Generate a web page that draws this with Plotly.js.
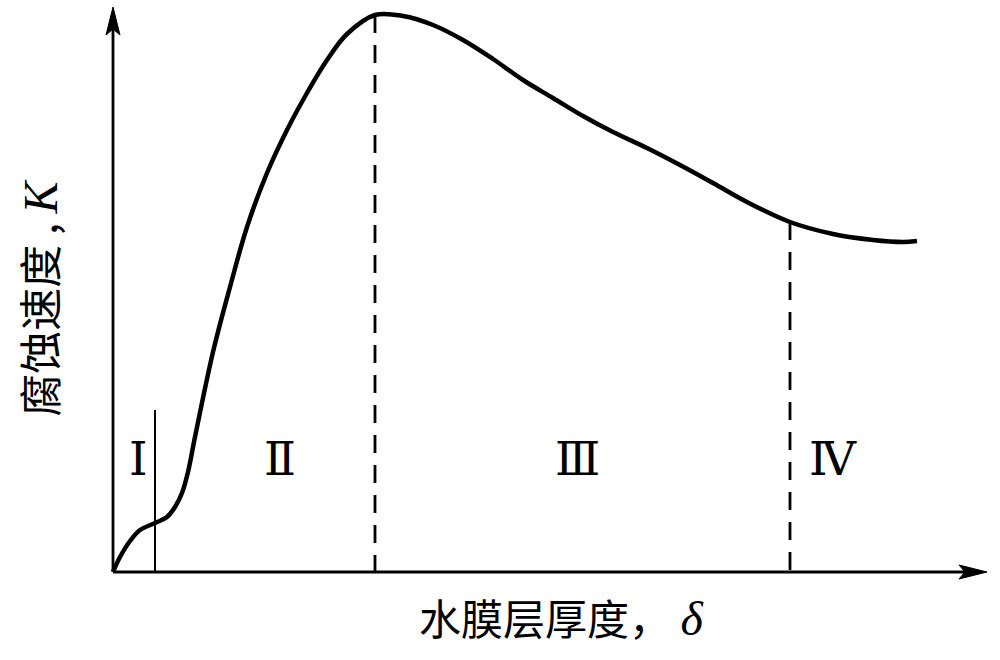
<!DOCTYPE html>
<html>
<head>
<meta charset="utf-8">
<script src="https://cdn.plot.ly/plotly-3.0.1.min.js"></script>
<style>
  html, body { margin: 0; padding: 0; background: #ffffff; }
  #chart { width: 1000px; height: 660px; }
</style>
</head>
<body>
<div id="chart"></div>
<script>
// Water-film thickness (delta) vs corrosion rate (K), schematic units
const filmThickness = [0, 7, 17, 27, 42, 54, 62, 69, 75, 82, 100, 117, 134, 154, 174, 194, 214, 234, 262, 290, 320, 350, 380, 410, 440, 470, 500, 534, 567, 600, 634, 677, 720, 760, 790, 804];
const corrosionRate = [0, 15, 31, 42, 49, 55, 65, 79, 100, 135, 220, 285, 345, 399, 442, 479, 512, 538, 557, 556, 547, 532, 513, 492, 474, 456, 440, 424, 407, 389, 370, 350, 338, 332, 330, 331];

// Region boundaries along the thickness axis
const boundaryThickness = [42, 262, 677];
const boundaryStyle = ['solid', 'dash', 'dash'];
const firstBoundaryHeight = 162;

// Region names
const regionNames = ['Ⅰ', 'Ⅱ', 'Ⅲ', 'Ⅳ'];

const serifItalic = 'font-family:\'Liberation Serif\';font-style:italic;font-size:48px';
const xTitle = '水膜层厚度， <span style="' + serifItalic + '">δ</span>';
const yTitle = '腐蚀速度 , <span style="' + serifItalic + '">K</span>';

const X_MAX = 874, Y_MAX = 565;

function rateAt(x) {
  return corrosionRate[filmThickness.indexOf(x)];
}

const traces = [];

// boundary lines
boundaryThickness.forEach((bx, i) => {
  const solid = boundaryStyle[i] === 'solid';
  const top = i === 0 ? firstBoundaryHeight : rateAt(bx);
  traces.push({
    x: [bx, bx],
    y: [top, 0],
    mode: 'lines',
    line: { color: '#000', width: solid ? 2 : 2.8, dash: solid ? 'solid' : '18px,12px' },
    hoverinfo: 'skip'
  });
});

// corrosion-rate curve
traces.push({
  x: filmThickness,
  y: corrosionRate,
  mode: 'lines',
  line: { color: '#000', width: 4.5, shape: 'spline', smoothing: 1 },
  hoverinfo: 'skip'
});

// axes with arrowheads
const shapes = [
  { type: 'line', xref: 'x', yref: 'y', x0: 0, y0: 0, x1: X_MAX - 22, y1: 0, line: { color: '#000', width: 2.8 } },
  { type: 'line', xref: 'x', yref: 'y', x0: 0, y0: 0, x1: 0, y1: Y_MAX - 22, line: { color: '#000', width: 2.8 } },
  { type: 'path', xref: 'x', yref: 'y', fillcolor: '#000', line: { color: '#000', width: 1 },
    path: `M${X_MAX},0 L${X_MAX - 28},7 L${X_MAX - 22},0 L${X_MAX - 28},-7 Z` },
  { type: 'path', xref: 'x', yref: 'y', fillcolor: '#000', line: { color: '#000', width: 1 },
    path: `M0,${Y_MAX} L7,${Y_MAX - 28} L0,${Y_MAX - 22} L-7,${Y_MAX - 28} Z` }
];

// region label placement (centre x of each label)
const labelX = [25, 167, 464, 720];
const annotations = regionNames.map((t, i) => ({
  x: labelX[i], y: 114, xref: 'x', yref: 'y',
  text: t, showarrow: false,
  font: { family: 'DejaVu Serif, Liberation Serif, serif', size: 47, color: '#000' },
  xanchor: 'center', yanchor: 'middle'
}));

// axis titles, placed in paper coordinates outside the plot area
annotations.push({
  x: 0.518, y: -0.054, xref: 'paper', yref: 'paper',
  text: xTitle, showarrow: false,
  font: { family: 'Noto Sans CJK SC, sans-serif', size: 42, color: '#000' },
  xanchor: 'center', yanchor: 'middle'
});
annotations.push({
  x: -0.07, y: 0.494, xref: 'paper', yref: 'paper',
  text: yTitle, showarrow: false, textangle: -90,
  font: { family: 'Noto Sans CJK SC, sans-serif', size: 43, color: '#000' },
  xanchor: 'center', yanchor: 'middle'
});

// plot area padded so the axis lines and arrowheads are not clipped
const layout = {
  width: 1000, height: 660,
  margin: { l: 100, r: 10, t: 4, b: 75 },
  paper_bgcolor: '#fff', plot_bgcolor: '#fff',
  showlegend: false,
  xaxis: { range: [-13, X_MAX + 3], visible: false, fixedrange: true },
  yaxis: { range: [-13, Y_MAX + 3], visible: false, fixedrange: true },
  shapes: shapes,
  annotations: annotations
};

Plotly.newPlot('chart', traces, layout, { staticPlot: true, displayModeBar: false });
</script>
</body>
</html>
